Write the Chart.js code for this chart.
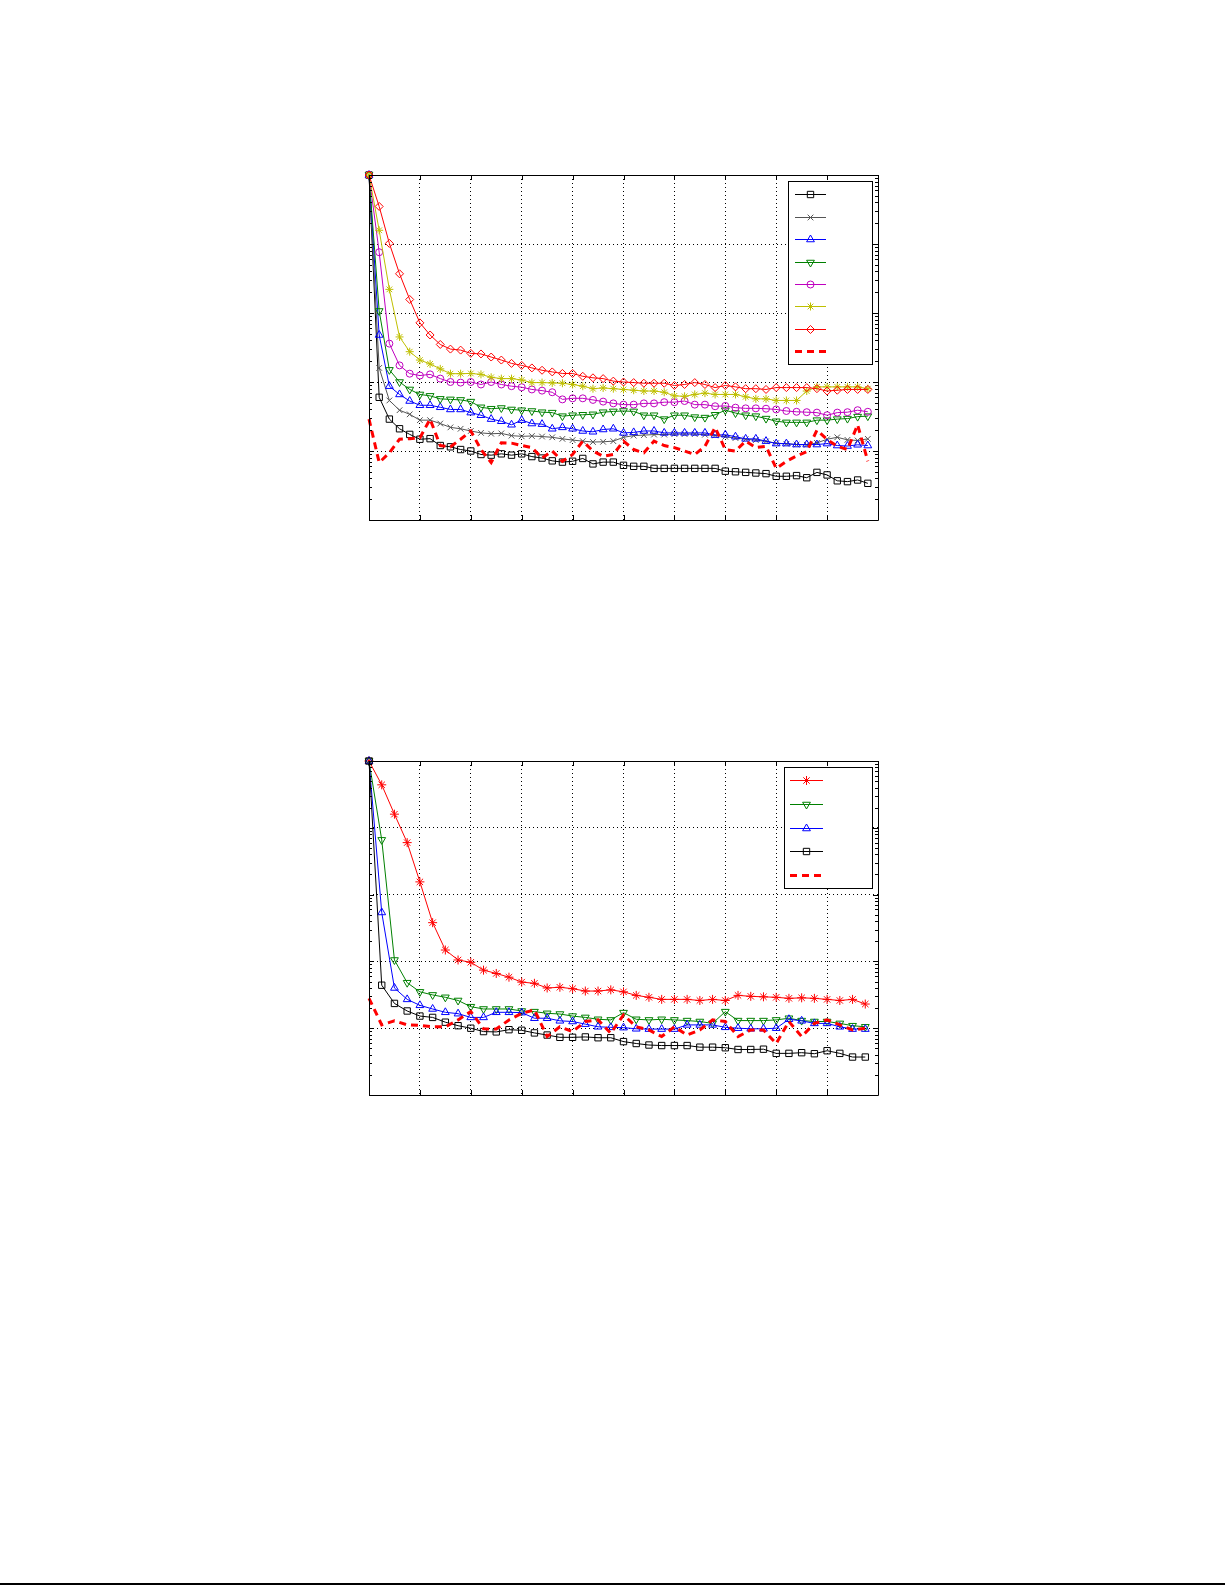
<!DOCTYPE html>
<html>
<head>
<meta charset="utf-8">
<script src="https://cdn.jsdelivr.net/npm/chart.js@4.4.1/dist/chart.umd.min.js"></script>
<style>
  html, body { margin: 0; padding: 0; background: #fff; height: 100%; overflow: hidden; scrollbar-width: none; }
  ::-webkit-scrollbar { width: 0; height: 0; display: none; }
  .plot { position: fixed; left: 0; line-height: 0; }
  canvas { display: block; }
  #box1 { top: 0; }
  #box2 { top: 620px; }
  #rule { position: fixed; left: 0; top: 1583px; width: 1225px; height: 2px; background: #000; }
  #edge { position: fixed; right: 0; top: 0; width: 20px; height: 1580px; background: #fff; z-index: 10; }
</style>
</head>
<body>
<div class="plot" id="box1"><canvas id="chart1" width="1000" height="600"></canvas></div>
<div class="plot" id="box2"><canvas id="chart2" width="1000" height="540"></canvas></div>
<div id="rule"></div>
<div id="edge"></div>

<script>
// iteration index, top panel (50 steps) and bottom panel (40 steps)
const iters1 = [0,1,2,3,4,5,6,7,8,9,10,11,12,13,14,15,16,17,18,19,20,21,22,23,24,
                25,26,27,28,29,30,31,32,33,34,35,36,37,38,39,40,41,42,43,44,45,46,47,48,49];
const iters2 = [0,1,2,3,4,5,6,7,8,9,10,11,12,13,14,15,16,17,18,19,
                20,21,22,23,24,25,26,27,28,29,30,31,32,33,34,35,36,37,38,39];
const decades = [1e-5, 1e-4, 1e-3, 1e-2, 1e-1, 1];

// top panel
const squares1 = [1, 6.0e-4, 2.9e-4, 2.1e-4, 1.74e-4, 1.48e-4, 1.51e-4, 1.2e-4, 1.15e-4, 1.05e-4,
  1.0e-4, 8.9e-5, 8.7e-5, 9.1e-5, 8.7e-5, 9.1e-5, 8.3e-5, 7.9e-5, 7.2e-5, 6.9e-5,
  7.1e-5, 7.8e-5, 6.5e-5, 6.9e-5, 6.9e-5, 6.2e-5, 6.0e-5, 6.0e-5, 5.6e-5, 5.6e-5,
  5.6e-5, 5.6e-5, 5.6e-5, 5.6e-5, 5.6e-5, 5.1e-5, 5.0e-5, 4.9e-5, 4.8e-5, 4.7e-5,
  4.3e-5, 4.3e-5, 4.4e-5, 4.1e-5, 4.9e-5, 4.5e-5, 3.7e-5, 3.6e-5, 3.8e-5, 3.4e-5];
const crosses1 = [1, 1.6e-3, 5.4e-4, 3.9e-4, 3.4e-4, 2.8e-4, 2.8e-4, 2.5e-4, 2.2e-4, 2.1e-4,
  1.95e-4, 1.83e-4, 1.78e-4, 1.8e-4, 1.67e-4, 1.63e-4, 1.65e-4, 1.62e-4, 1.58e-4, 1.5e-4,
  1.44e-4, 1.39e-4, 1.35e-4, 1.36e-4, 1.39e-4, 1.58e-4, 1.67e-4, 1.7e-4, 1.73e-4, 1.73e-4,
  1.76e-4, 1.76e-4, 1.76e-4, 1.72e-4, 1.68e-4, 1.61e-4, 1.54e-4, 1.48e-4, 1.44e-4, 1.38e-4,
  1.3e-4, 1.27e-4, 1.24e-4, 1.23e-4, 1.31e-4, 1.48e-4, 1.58e-4, 1.45e-4, 1.42e-4, 1.5e-4];
const triUp1 = [1, 4.8e-3, 8.7e-4, 6.6e-4, 5.3e-4, 4.6e-4, 4.6e-4, 4.3e-4, 4.0e-4, 4.0e-4,
  3.6e-4, 3.3e-4, 2.9e-4, 2.7e-4, 2.4e-4, 2.8e-4, 2.5e-4, 2.45e-4, 2.1e-4, 2.2e-4,
  2.1e-4, 1.95e-4, 1.9e-4, 2.05e-4, 2.1e-4, 1.83e-4, 1.86e-4, 1.95e-4, 1.95e-4, 1.83e-4,
  1.83e-4, 1.83e-4, 1.83e-4, 1.83e-4, 1.7e-4, 1.72e-4, 1.61e-4, 1.5e-4, 1.5e-4, 1.39e-4,
  1.28e-4, 1.28e-4, 1.24e-4, 1.24e-4, 1.24e-4, 1.28e-4, 1.2e-4, 1.18e-4, 1.23e-4, 1.2e-4];
const triDown1 = [1, 1.07e-2, 1.5e-3, 1.0e-3, 7.8e-4, 6.6e-4, 6.3e-4, 5.7e-4, 5.6e-4, 5.5e-4,
  5.2e-4, 4.3e-4, 4.1e-4, 4.2e-4, 4.0e-4, 3.9e-4, 3.8e-4, 3.65e-4, 3.6e-4, 3.2e-4,
  3.3e-4, 3.35e-4, 3.4e-4, 3.65e-4, 3.75e-4, 3.8e-4, 3.75e-4, 3.3e-4, 3.3e-4, 2.9e-4,
  3.3e-4, 3.3e-4, 3.1e-4, 3.05e-4, 3.35e-4, 3.9e-4, 3.55e-4, 3.3e-4, 3.2e-4, 2.95e-4,
  2.7e-4, 2.6e-4, 2.6e-4, 2.6e-4, 2.8e-4, 2.8e-4, 2.9e-4, 2.95e-4, 3.15e-4, 3.2e-4];
const circles1 = [1, 7.6e-2, 3.6e-3, 1.74e-3, 1.32e-3, 1.24e-3, 1.29e-3, 1.12e-3, 1.0e-3, 9.8e-4,
  1.0e-3, 9.2e-4, 1.0e-3, 9.2e-4, 8.7e-4, 8.4e-4, 7.8e-4, 7.5e-4, 7.1e-4, 5.6e-4,
  5.8e-4, 5.8e-4, 5.5e-4, 5.2e-4, 4.9e-4, 4.7e-4, 4.7e-4, 4.9e-4, 4.9e-4, 5.1e-4,
  5.1e-4, 5.3e-4, 4.7e-4, 4.7e-4, 4.45e-4, 4.5e-4, 4.25e-4, 4.15e-4, 4.15e-4, 4.1e-4,
  4.0e-4, 3.8e-4, 3.7e-4, 3.65e-4, 3.6e-4, 3.3e-4, 3.6e-4, 3.65e-4, 3.9e-4, 3.7e-4];
const stars1 = [1, 0.158, 2.2e-2, 4.5e-3, 2.75e-3, 2.08e-3, 1.83e-3, 1.55e-3, 1.32e-3, 1.32e-3,
  1.33e-3, 1.29e-3, 1.17e-3, 1.12e-3, 1.12e-3, 1.07e-3, 9.8e-4, 9.8e-4, 9.7e-4, 9.6e-4,
  9.2e-4, 8.7e-4, 8.0e-4, 8.2e-4, 8.0e-4, 7.8e-4, 7.6e-4, 7.4e-4, 7.4e-4, 7.1e-4,
  6.3e-4, 6.2e-4, 6.6e-4, 6.9e-4, 6.6e-4, 6.6e-4, 6.6e-4, 6.1e-4, 5.7e-4, 5.7e-4,
  5.4e-4, 5.4e-4, 5.4e-4, 7.4e-4, 8.5e-4, 8.5e-4, 8.5e-4, 8.5e-4, 8.5e-4, 8.0e-4];
const diamonds1 = [1, 0.35, 0.102, 3.7e-2, 1.57e-2, 7.2e-3, 4.8e-3, 3.5e-3, 3.0e-3, 2.9e-3,
  2.6e-3, 2.55e-3, 2.3e-3, 2.08e-3, 1.86e-3, 1.74e-3, 1.6e-3, 1.48e-3, 1.4e-3, 1.33e-3,
  1.33e-3, 1.21e-3, 1.15e-3, 1.12e-3, 1.03e-3, 1.0e-3, 9.8e-4, 9.6e-4, 9.6e-4, 9.6e-4,
  8.9e-4, 9.2e-4, 9.8e-4, 9.2e-4, 8.3e-4, 8.9e-4, 8.5e-4, 8.0e-4, 8.0e-4, 7.8e-4,
  8.3e-4, 8.3e-4, 8.3e-4, 8.3e-4, 8.0e-4, 7.4e-4, 7.6e-4, 7.8e-4, 7.8e-4, 7.8e-4];
const dashed1 = [2.9e-4, 6.8e-5, 9.4e-5, 1.48e-4, 1.51e-4, 1.55e-4, 2.9e-4, 1.2e-4, 1.15e-4, 1.48e-4,
  1.95e-4, 1.05e-4, 6.8e-5, 1.32e-4, 1.3e-4, 1.2e-4, 1.12e-4, 7.9e-5, 1.0e-4, 7.1e-5,
  8.9e-5, 1.39e-4, 1.0e-4, 8.4e-5, 8.9e-5, 1.39e-4, 1.05e-4, 9.4e-5, 1.39e-4, 1.2e-4,
  1.12e-4, 1.0e-4, 8.9e-5, 1.17e-4, 2.2e-4, 1.05e-4, 1.0e-4, 1.39e-4, 1.12e-4, 1.17e-4,
  5.6e-5, 7.1e-5, 8.5e-5, 9.8e-5, 2.0e-4, 1.47e-4, 1.17e-4, 1.05e-4, 2.4e-4, 7.1e-5];

// bottom panel
const stars2 = [1, 0.44, 0.16, 6.0e-2, 1.55e-2, 3.8e-3, 1.48e-3, 1.05e-3, 9.7e-4, 7.4e-4,
  6.6e-4, 5.8e-4, 4.9e-4, 4.7e-4, 4.0e-4, 4.1e-4, 3.9e-4, 3.6e-4, 3.6e-4, 3.75e-4,
  3.5e-4, 3.1e-4, 2.9e-4, 2.7e-4, 2.7e-4, 2.7e-4, 2.6e-4, 2.7e-4, 2.6e-4, 3.1e-4,
  3.0e-4, 2.95e-4, 2.9e-4, 2.8e-4, 2.85e-4, 2.8e-4, 2.7e-4, 2.6e-4, 2.7e-4, 2.3e-4];
const triDown2 = [1, 6.6e-2, 1.05e-3, 4.8e-4, 3.5e-4, 3.15e-4, 2.9e-4, 2.6e-4, 2.1e-4, 1.94e-4,
  1.94e-4, 1.94e-4, 1.81e-4, 1.77e-4, 1.67e-4, 1.63e-4, 1.52e-4, 1.45e-4, 1.36e-4, 1.33e-4,
  1.71e-4, 1.36e-4, 1.33e-4, 1.36e-4, 1.33e-4, 1.3e-4, 1.26e-4, 1.18e-4, 1.77e-4, 1.3e-4,
  1.3e-4, 1.3e-4, 1.33e-4, 1.41e-4, 1.3e-4, 1.26e-4, 1.26e-4, 1.18e-4, 1.09e-4, 1.05e-4];
const triUp2 = [1, 5.4e-3, 4.0e-4, 2.7e-4, 2.2e-4, 1.94e-4, 1.73e-4, 1.65e-4, 1.45e-4, 1.45e-4,
  1.73e-4, 1.73e-4, 1.71e-4, 1.41e-4, 1.41e-4, 1.29e-4, 1.26e-4, 1.15e-4, 1.05e-4, 1.03e-4,
  1.02e-4, 9.8e-5, 9.7e-5, 9.7e-5, 9.7e-5, 1.12e-4, 1.12e-4, 1.12e-4, 1.03e-4, 1.0e-4,
  9.8e-5, 9.8e-5, 1.0e-4, 1.36e-4, 1.29e-4, 1.18e-4, 1.18e-4, 1.05e-4, 9.7e-5, 9.7e-5];
const squares2 = [1, 4.4e-4, 2.35e-4, 1.81e-4, 1.52e-4, 1.45e-4, 1.23e-4, 1.09e-4, 1.0e-4, 8.9e-5,
  8.8e-5, 9.5e-5, 9.3e-5, 8.5e-5, 7.9e-5, 7.3e-5, 7.3e-5, 7.4e-5, 7.2e-5, 7.2e-5,
  6.3e-5, 5.9e-5, 5.6e-5, 5.5e-5, 5.5e-5, 5.5e-5, 5.2e-5, 5.2e-5, 5.1e-5, 4.8e-5,
  4.8e-5, 4.85e-5, 4.2e-5, 4.2e-5, 4.3e-5, 4.15e-5, 4.6e-5, 4.2e-5, 3.7e-5, 3.7e-5];
const dashed2 = [2.8e-4, 1.12e-4, 1.29e-4, 1.12e-4, 1.1e-4, 1.05e-4, 1.05e-4, 1.33e-4, 1.77e-4, 9.8e-5,
  9.7e-5, 1.33e-4, 1.67e-4, 1.88e-4, 7.5e-5, 1.05e-4, 8.9e-5, 1.26e-4, 1.33e-4, 8.4e-5,
  1.58e-4, 1.05e-4, 9.4e-5, 7.5e-5, 1.05e-4, 7.9e-5, 9.4e-5, 1.33e-4, 1.26e-4, 7.5e-5,
  9.4e-5, 9.4e-5, 5.9e-5, 1.26e-4, 7.5e-5, 1.18e-4, 1.33e-4, 1.12e-4, 9.4e-5, 1.0e-4];

function series(xs, ys, color, style, radius, rotation) {
  return {
    data: ys.map((v, i) => ({ x: xs[i], y: v })),
    borderColor: color,
    borderWidth: 1,
    pointStyle: style,
    pointRadius: radius,
    pointRotation: rotation || 0,
    pointBorderColor: color,
    pointBackgroundColor: 'rgba(0,0,0,0)',
    pointBorderWidth: 1,
    clip: false
  };
}

function dashedSeries(xs, ys) {
  return {
    data: ys.map((v, i) => ({ x: xs[i], y: v })),
    borderColor: '#ff0000',
    borderWidth: 3,
    borderDash: [7, 5],
    pointRadius: 0,
    clip: false
  };
}

// later datasets on top, like the original plot
function stack(list) {
  list.forEach((d, i) => { d.order = -i; });
  return list;
}

const framePlugin = {
  id: 'frame',
  afterDraw(chart) {
    const { ctx, chartArea: a, scales: { x, y } } = chart;
    ctx.save();
    ctx.strokeStyle = '#000';
    ctx.lineWidth = 1;
    ctx.setLineDash([]);
    ctx.beginPath();
    ctx.rect(a.left + 0.5, a.top + 0.5, a.right - a.left, a.bottom - a.top);
    x.ticks.forEach(t => {
      const px = Math.round(x.getPixelForValue(t.value)) + 0.5;
      ctx.moveTo(px, a.bottom); ctx.lineTo(px, a.bottom - 5);
      ctx.moveTo(px, a.top); ctx.lineTo(px, a.top + 5);
    });
    decades.forEach(d => {
      for (let m = 1; m <= 9; m++) {
        const v = m * d;
        if (v > 1) break;
        const py = Math.round(y.getPixelForValue(v)) + 0.5;
        const len = m === 1 ? 5 : 3;
        ctx.moveTo(a.left, py); ctx.lineTo(a.left + len, py);
        ctx.moveTo(a.right, py); ctx.lineTo(a.right - len, py);
      }
    });
    ctx.stroke();
    ctx.restore();
  }
};

const legendPlugin = {
  id: 'boxLegend',
  afterDraw(chart, args, opts) {
    const { ctx } = chart;
    const [l, t, r, b] = opts.box;
    ctx.save();
    ctx.fillStyle = '#fff';
    ctx.fillRect(l, t, r - l, b - t);
    ctx.strokeStyle = '#000';
    ctx.lineWidth = 1;
    ctx.strokeRect(l + 0.5, t + 0.5, r - l, b - t);
    chart.data.datasets.forEach((ds, i) => {
      const yy = Math.round(opts.firstRow + i * opts.rowStep) + 0.5;
      ctx.strokeStyle = ds.borderColor;
      ctx.lineWidth = ds.borderWidth;
      ctx.setLineDash(ds.borderDash || []);
      ctx.beginPath();
      ctx.moveTo(opts.lineFrom, yy);
      ctx.lineTo(opts.lineTo, yy);
      ctx.stroke();
      ctx.setLineDash([]);
      if (ds.pointRadius > 0 && Chart.helpers && Chart.helpers.drawPoint) {
        ctx.fillStyle = 'rgba(0,0,0,0)';
        ctx.lineWidth = ds.pointBorderWidth;
        Chart.helpers.drawPoint(ctx, {
          pointStyle: ds.pointStyle,
          radius: ds.pointRadius,
          rotation: ds.pointRotation,
          borderWidth: ds.pointBorderWidth
        }, (opts.lineFrom + opts.lineTo) / 2, yy);
      }
    });
    ctx.restore();
  }
};

function makeOptions(xMax, xStep, pad, legend) {
  return {
    responsive: false,
    animation: false,
    events: [],
    layout: { padding: pad },
    plugins: {
      legend: { display: false },
      tooltip: { enabled: false },
      boxLegend: legend
    },
    scales: {
      x: {
        type: 'linear', min: 0, max: xMax,
        ticks: { display: false, stepSize: xStep },
        grid: { color: '#000', lineWidth: 1, drawTicks: false },
        border: { display: false, dash: [1, 3] }
      },
      y: {
        type: 'logarithmic', min: 1e-5, max: 1,
        afterBuildTicks: s => { s.ticks = decades.map(v => ({ value: v })); },
        ticks: { display: false },
        grid: { color: '#000', lineWidth: 1, drawTicks: false },
        border: { display: false, dash: [1, 3] }
      }
    }
  };
}

new Chart(document.getElementById('chart1'), {
  type: 'line',
  data: {
    datasets: stack([
      series(iters1, squares1, '#000000', 'rect', 4.5),
      series(iters1, crosses1, '#555555', 'crossRot', 4),
      series(iters1, triUp1, '#0000ff', 'triangle', 4.5),
      series(iters1, triDown1, '#008000', 'triangle', 4.5, 180),
      series(iters1, circles1, '#bf00bf', 'circle', 3.5),
      series(iters1, stars1, '#bfbf00', 'star', 4),
      series(iters1, diamonds1, '#ff0000', 'rectRot', 4),
      dashedSeries(iters1, dashed1)
    ])
  },
  options: makeOptions(50, 5, { left: 369, top: 175, right: 122, bottom: 80 },
    { box: [788, 181, 872, 364], firstRow: 194.3, rowStep: 22.4, lineFrom: 795, lineTo: 826 }),
  plugins: [framePlugin, legendPlugin]
});

new Chart(document.getElementById('chart2'), {
  type: 'line',
  data: {
    datasets: stack([
      series(iters2, stars2, '#ff0000', 'star', 4.5),
      series(iters2, triDown2, '#008000', 'triangle', 4.5, 180),
      series(iters2, triUp2, '#0000ff', 'triangle', 4.5),
      series(iters2, squares2, '#000000', 'rect', 4.5),
      dashedSeries(iters2, dashed2)
    ])
  },
  options: makeOptions(40, 4, { left: 369, top: 141, right: 122, bottom: 65 },
    { box: [784, 147, 872, 268], firstRow: 160, rowStep: 23.75, lineFrom: 790, lineTo: 823 }),
  plugins: [framePlugin, legendPlugin]
});
</script>
</body>
</html>
